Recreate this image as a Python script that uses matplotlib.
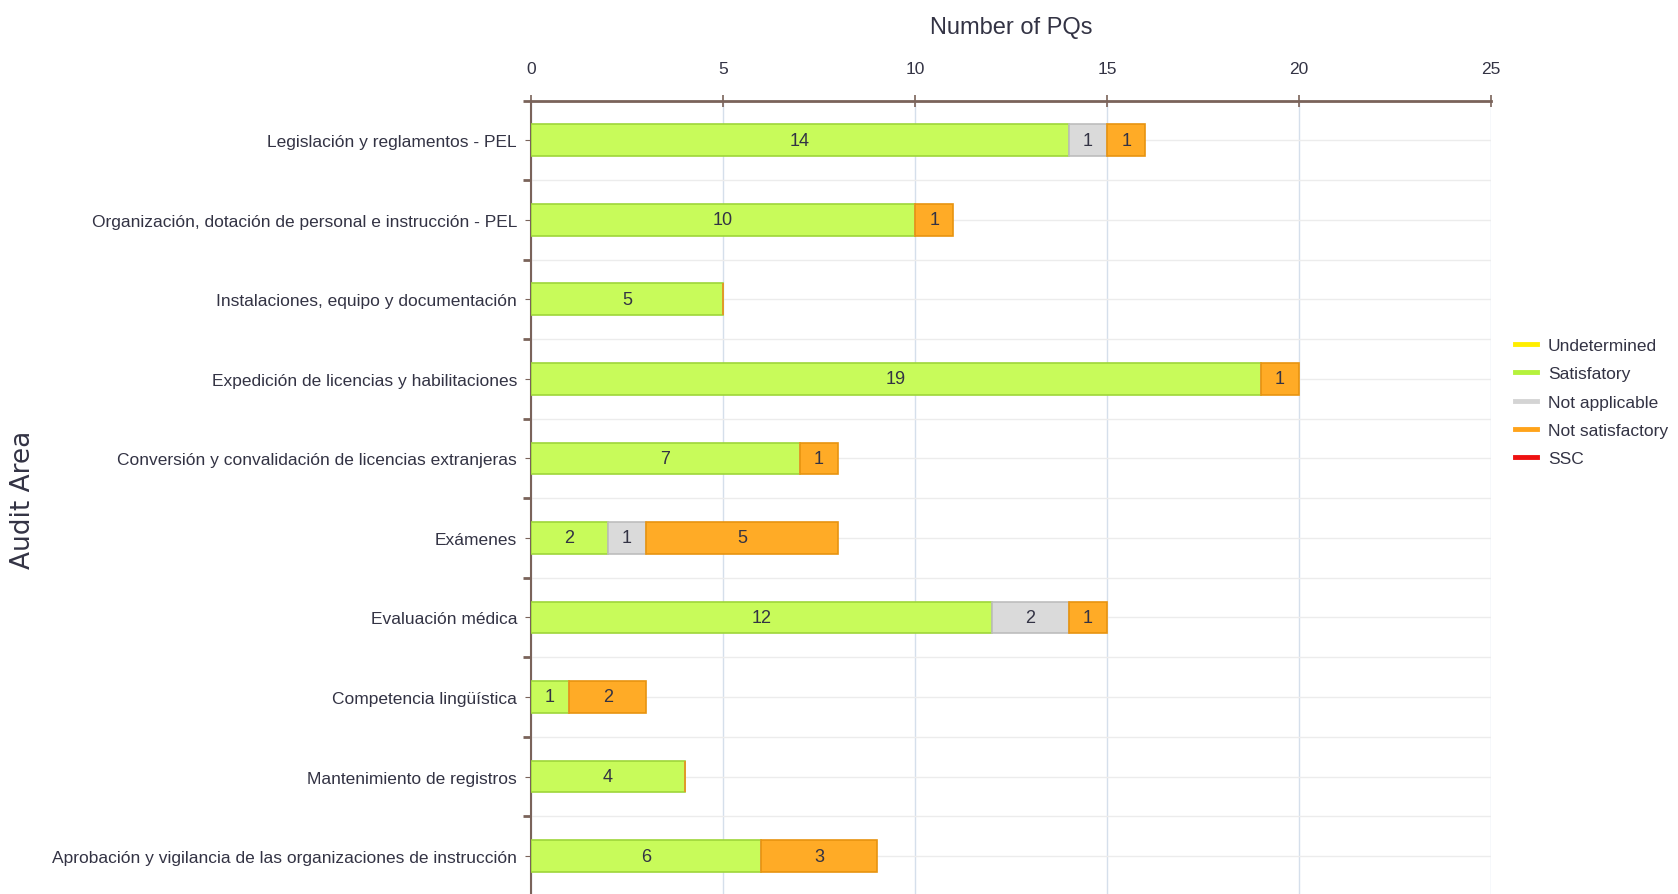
import matplotlib.pyplot as plt
import numpy as np
from matplotlib.lines import Line2D

areas = [
    "Legislación y reglamentos - PEL",
    "Organización, dotación de personal e instrucción - PEL",
    "Instalaciones, equipo y documentación",
    "Expedición de licencias y habilitaciones",
    "Conversión y convalidación de licencias extranjeras",
    "Exámenes",
    "Evaluación médica",
    "Competencia lingüística",
    "Mantenimiento de registros",
    "Aprobación y vigilancia de las organizaciones de instrucción",
]
satisfactory = [14, 10, 5, 19, 7, 2, 12, 1, 4, 6]
not_applicable = [1, 0, 0, 0, 0, 1, 2, 0, 0, 0]
not_satisfactory = [1, 1, 0, 1, 1, 5, 1, 2, 0, 3]

legend_names = ["Undetermined", "Satisfatory", "Not applicable", "Not satisfactory", "SSC"]
legend_colors = ["#ffee00", "#b5f23c", "#d4d4d4", "#ffa31a", "#ee1111"]

narrow = ["Liberation Sans", "DejaVu Sans"]
txt = "#333344"
brown = "#7a635a"

fig = plt.figure(figsize=(16.78, 8.95), dpi=100)
ax = fig.add_axes([0.3164, -0.002, 0.8886 - 0.3164, 0.8885])

y = np.arange(len(areas))
h = 0.4
series = [
    (satisfactory, "#c8fb5a", "#9ed63a"),
    (not_applicable, "#dadada", "#bdbdbd"),
    (not_satisfactory, "#ffab26", "#e89410"),
]
left = np.zeros(len(areas))
for vals, fc, ec in series:
    vals = np.array(vals, dtype=float)
    ax.barh(y, vals, left=left, height=h, color=fc, edgecolor=ec, linewidth=1.2, zorder=3)
    for yi, l, v in zip(y, left, vals):
        if v > 0:
            ax.text(l + v / 2, yi, str(int(v)), ha="center", va="center",
                    fontsize=13, color=txt, family=narrow, zorder=4)
    left += vals

ax.set_xlim(0, 25)
ax.set_ylim(len(areas) - 0.5, -0.5)

ax.xaxis.tick_top()
ax.xaxis.set_label_position("top")
ax.set_xticks(np.arange(0, 26, 5))
ax.tick_params(axis="x", direction="inout", length=8, color=brown, width=1.2,
               labelsize=12.5, labelcolor=txt, pad=14)
for lab in ax.get_xticklabels():
    lab.set_family(narrow)
ax.set_xlabel("Number of PQs", fontsize=17, color=txt, family=narrow, labelpad=20)

ax.set_yticks(y)
ax.set_yticklabels(areas)
ax.set_yticks(np.arange(-0.5, len(areas), 1), minor=True)
ax.tick_params(axis="y", which="major", length=4, color=brown, labelsize=12.5,
               labelcolor=txt, pad=6)
ax.tick_params(axis="y", which="minor", length=6, color=brown, width=2)
for lab in ax.get_yticklabels():
    lab.set_family(narrow)

ax.grid(axis="x", color="#d5dfeb", linewidth=1, zorder=0)
ax.grid(axis="y", which="major", color="#ececec", linewidth=1, zorder=0)
ax.grid(axis="y", which="minor", color="#ececec", linewidth=1, zorder=0)

for s in ["right", "bottom"]:
    ax.spines[s].set_visible(False)
ax.spines["top"].set_color(brown)
ax.spines["top"].set_linewidth(2)
ax.spines["left"].set_color(brown)
ax.spines["left"].set_linewidth(1.5)

fig.text(0.014, 0.441, "Audit Area", rotation=90, ha="center", va="center",
         fontsize=19, color=txt)

handles = [Line2D([0], [0], color=c, linewidth=3.5) for c in legend_colors]
leg = fig.legend(handles, legend_names, loc="center left", bbox_to_anchor=(0.8934, 0.5497),
                 frameon=False, handlelength=1.3, handletextpad=0.6, labelspacing=0.75,
                 prop={"family": narrow, "size": 12.5})
for t in leg.get_texts():
    t.set_color(txt)

fig.savefig("out.png", dpi=100)
